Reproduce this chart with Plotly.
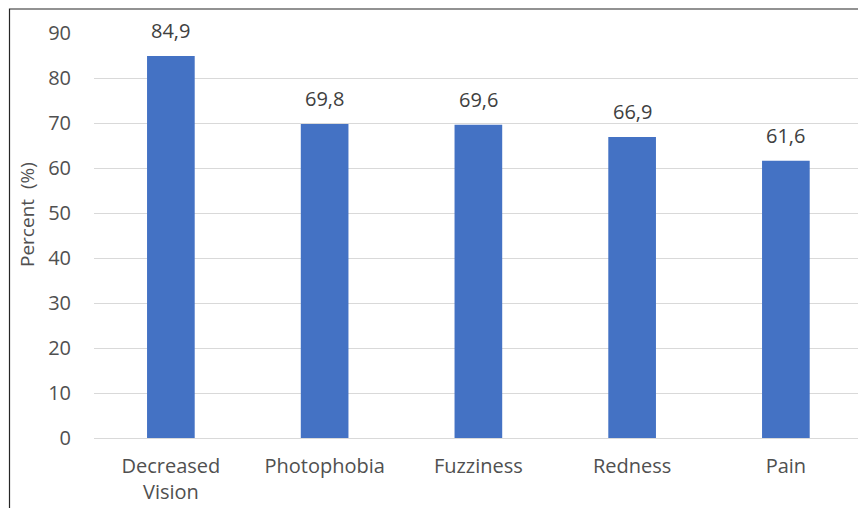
import plotly.graph_objects as go

categories = ["Decreased<br>Vision", "Photophobia", "Fuzziness", "Redness", "Pain"]
percent = [84.9, 69.8, 69.6, 66.9, 61.6]
y_ticks = [0, 10, 20, 30, 40, 50, 60, 70, 80, 90]

W, H = 858, 508
L, R, T, B = 94, 0, 33, 70
plot_w = W - L - R
plot_h = H - T - B
cat_step = 153.75  # pixels per category

FONT = "Open Sans"
TEXT_GREY = "#505050"
FS = 20

fig = go.Figure(
    go.Bar(
        x=list(range(len(categories))),
        y=percent,
        marker=dict(color="#4472C4", line=dict(width=0)),
        width=0.31,
        hoverinfo="skip",
    )
)

# value labels above each bar, comma as decimal separator
for i, v in enumerate(percent):
    fig.add_annotation(
        x=i, y=v, text=f"{v:.1f}".replace(".", ","),
        showarrow=False, yanchor="bottom", yshift=10,
        font=dict(family=FONT, size=FS, color="#404040"),
    )

# y-axis title
fig.add_annotation(
    xref="paper", yref="paper",
    x=(27 - L) / plot_w, y=(H - B - 215) / plot_h,
    text="Percent  (%)", textangle=-90, showarrow=False,
    xanchor="center", yanchor="middle",
    font=dict(family=FONT, size=19, color=TEXT_GREY),
)

# outer frame of the chart
fig.add_shape(
    type="rect", xref="paper", yref="paper",
    x0=(9.5 - L) / plot_w, x1=1.05,
    y0=-0.3, y1=(H - B - 9) / plot_h,
    line=dict(color="#262626", width=1.2), fillcolor="rgba(0,0,0,0)",
    layer="above",
)

fig.update_layout(
    width=W, height=H,
    margin=dict(l=L, r=R, t=T, b=B, pad=0),
    paper_bgcolor="white", plot_bgcolor="white",
    showlegend=False,
    font=dict(family=FONT, size=FS, color=TEXT_GREY),
    xaxis=dict(
        range=[-0.5, -0.5 + plot_w / cat_step],
        tickmode="array",
        tickvals=list(range(len(categories))),
        ticktext=categories,
        showgrid=False, zeroline=False, showline=False,
        ticks="", ticklabelstandoff=14,
        tickfont=dict(family=FONT, size=FS, color=TEXT_GREY),
    ),
    yaxis=dict(
        range=[0, 90],
        tickmode="array", tickvals=y_ticks,
        showgrid=True, gridcolor="#D9D9D9", gridwidth=1,
        zeroline=True, zerolinecolor="#D9D9D9", zerolinewidth=1,
        showline=False, ticks="", ticklabelstandoff=22,
        tickfont=dict(family=FONT, size=FS, color=TEXT_GREY),
    ),
)

fig.write_html("out.html")
